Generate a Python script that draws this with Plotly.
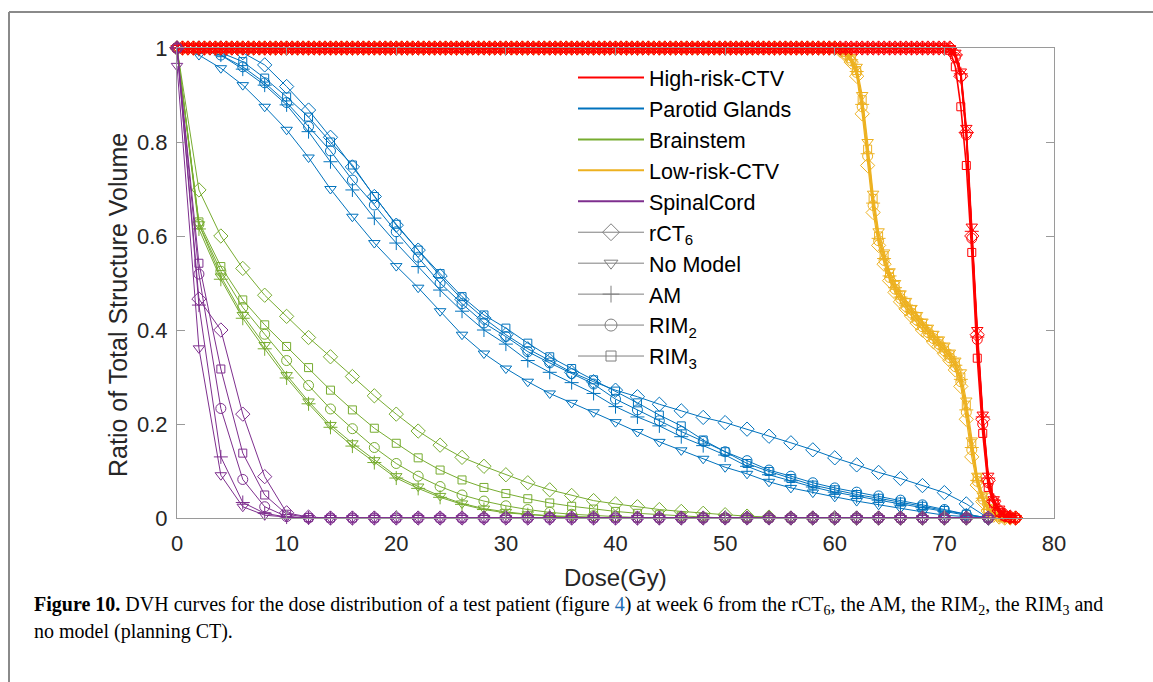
import plotly.graph_objects as go

# ---------------------------------------------------------------------------
# Dose grids (Gy)
# ---------------------------------------------------------------------------
dose_2gy = [0, 2, 4, 6, 8, 10, 12, 14, 16, 18, 20, 22, 24, 26, 28, 30, 32, 34, 36,
            38, 40, 42, 44, 46, 48, 50, 52, 54, 56, 58, 60, 62, 64, 66, 68, 70, 72, 74]
ctv_dose = [round(0.5 * i, 1) for i in range(154)]          # 0 ... 76.5 Gy

methods = ["rCT<sub>6</sub>", "No Model", "AM", "RIM<sub>2</sub>", "RIM<sub>3</sub>"]
structures = ["High-risk-CTV", "Parotid Glands", "Brainstem", "Low-risk-CTV", "SpinalCord"]

# ---------------------------------------------------------------------------
# Parotid glands
# ---------------------------------------------------------------------------
parotid_rct6 = [1.0, 1.0, 1.0, 0.99, 0.964, 0.918, 0.868, 0.81, 0.747, 0.684, 0.623, 0.57,
                0.515, 0.465, 0.425, 0.39, 0.36, 0.335, 0.31, 0.29, 0.272, 0.258, 0.242,
                0.228, 0.214, 0.203, 0.189, 0.174, 0.16, 0.145, 0.128, 0.113, 0.097, 0.084,
                0.069, 0.054, 0.03, 0.0]
parotid_nomodel = [1.0, 0.985, 0.957, 0.921, 0.875, 0.826, 0.767, 0.70, 0.641, 0.585, 0.536,
                   0.49, 0.44, 0.39, 0.35, 0.318, 0.29, 0.265, 0.245, 0.225, 0.204, 0.183,
                   0.162, 0.144, 0.126, 0.108, 0.094, 0.077, 0.064, 0.054, 0.045, 0.036,
                   0.028, 0.021, 0.013, 0.006, 0.003, 0.0]
parotid_am = [1.0, 0.997, 0.985, 0.955, 0.921, 0.879, 0.822, 0.758, 0.698, 0.638, 0.585,
              0.535, 0.485, 0.44, 0.40, 0.37, 0.335, 0.31, 0.288, 0.265, 0.237, 0.215, 0.196,
              0.173, 0.154, 0.134, 0.11, 0.092, 0.079, 0.066, 0.055, 0.046, 0.038, 0.03,
              0.022, 0.014, 0.006, 0.0]
parotid_rim2 = [1.0, 0.998, 0.985, 0.96, 0.926, 0.884, 0.833, 0.781, 0.719, 0.666, 0.609,
                0.555, 0.50, 0.456, 0.415, 0.386, 0.354, 0.33, 0.307, 0.285, 0.253, 0.23,
                0.207, 0.184, 0.163, 0.141, 0.122, 0.102, 0.089, 0.075, 0.064, 0.055, 0.047,
                0.038, 0.028, 0.018, 0.008, 0.0]
parotid_rim3 = [1.0, 0.998, 0.99, 0.971, 0.936, 0.896, 0.853, 0.80, 0.751, 0.684, 0.625,
                0.57, 0.52, 0.471, 0.432, 0.404, 0.372, 0.343, 0.318, 0.294, 0.27, 0.245,
                0.219, 0.196, 0.166, 0.141, 0.116, 0.099, 0.084, 0.07, 0.06, 0.05, 0.042,
                0.034, 0.025, 0.016, 0.008, 0.0]

# ---------------------------------------------------------------------------
# Brainstem
# ---------------------------------------------------------------------------
brainstem_rct6 = [1.0, 0.698, 0.60, 0.531, 0.474, 0.429, 0.384, 0.343, 0.301, 0.26, 0.221,
                  0.185, 0.155, 0.129, 0.11, 0.092, 0.075, 0.06, 0.048, 0.037, 0.03, 0.024,
                  0.018, 0.014, 0.01, 0.007, 0.004, 0.002, 0.0, 0.0, 0.0, 0.0, 0.0, 0.0, 0.0,
                  0.0, 0.0, 0.0]
brainstem_nomodel = [1.0, 0.625, 0.514, 0.432, 0.368, 0.304, 0.248, 0.198, 0.159, 0.123,
                     0.089, 0.067, 0.047, 0.031, 0.02, 0.013, 0.008, 0.005, 0.003, 0.001,
                     0.0, 0.0, 0.0, 0.0, 0.0, 0.0, 0.0, 0.0, 0.0, 0.0, 0.0, 0.0, 0.0, 0.0,
                     0.0, 0.0, 0.0, 0.0]
brainstem_am = [1.0, 0.615, 0.508, 0.425, 0.36, 0.298, 0.243, 0.193, 0.153, 0.118, 0.085,
                0.063, 0.044, 0.029, 0.018, 0.011, 0.007, 0.004, 0.002, 0.001, 0.0, 0.0,
                0.0, 0.0, 0.0, 0.0, 0.0, 0.0, 0.0, 0.0, 0.0, 0.0, 0.0, 0.0, 0.0, 0.0, 0.0,
                0.0]
brainstem_rim2 = [1.0, 0.625, 0.525, 0.448, 0.391, 0.335, 0.282, 0.232, 0.19, 0.15, 0.116,
                  0.089, 0.067, 0.049, 0.036, 0.026, 0.018, 0.012, 0.008, 0.005, 0.003,
                  0.001, 0.0, 0.0, 0.0, 0.0, 0.0, 0.0, 0.0, 0.0, 0.0, 0.0, 0.0, 0.0, 0.0,
                  0.0, 0.0, 0.0]
brainstem_rim3 = [1.0, 0.63, 0.535, 0.464, 0.411, 0.365, 0.32, 0.272, 0.23, 0.191, 0.159,
                  0.128, 0.102, 0.081, 0.065, 0.052, 0.041, 0.032, 0.025, 0.019, 0.014, 0.01,
                  0.007, 0.004, 0.002, 0.0, 0.0, 0.0, 0.0, 0.0, 0.0, 0.0, 0.0, 0.0, 0.0, 0.0,
                  0.0, 0.0]

# ---------------------------------------------------------------------------
# Spinal cord
# ---------------------------------------------------------------------------
cord_rct6 = [1.0, 0.466, 0.40, 0.221, 0.088, 0.011, 0.002, 0.0, 0.0, 0.0, 0.0, 0.0, 0.0,
             0.0, 0.0, 0.0, 0.0, 0.0, 0.0, 0.0, 0.0, 0.0, 0.0, 0.0, 0.0, 0.0, 0.0, 0.0,
             0.0, 0.0, 0.0, 0.0, 0.0, 0.0, 0.0, 0.0, 0.0, 0.0]
cord_nomodel = [0.962, 0.361, 0.091, 0.024, 0.006, 0.002, 0.0, 0.0, 0.0, 0.0, 0.0, 0.0,
                0.0, 0.0, 0.0, 0.0, 0.0, 0.0, 0.0, 0.0, 0.0, 0.0, 0.0, 0.0, 0.0, 0.0, 0.0,
                0.0, 0.0, 0.0, 0.0, 0.0, 0.0, 0.0, 0.0, 0.0, 0.0, 0.0]
cord_am = [1.0, 0.453, 0.13, 0.033, 0.01, 0.002, 0.0, 0.0, 0.0, 0.0, 0.0, 0.0, 0.0, 0.0,
           0.0, 0.0, 0.0, 0.0, 0.0, 0.0, 0.0, 0.0, 0.0, 0.0, 0.0, 0.0, 0.0, 0.0, 0.0, 0.0,
           0.0, 0.0, 0.0, 0.0, 0.0, 0.0, 0.0, 0.0]
cord_rim2 = [1.0, 0.519, 0.233, 0.082, 0.024, 0.003, 0.0, 0.0, 0.0, 0.0, 0.0, 0.0, 0.0,
             0.0, 0.0, 0.0, 0.0, 0.0, 0.0, 0.0, 0.0, 0.0, 0.0, 0.0, 0.0, 0.0, 0.0, 0.0,
             0.0, 0.0, 0.0, 0.0, 0.0, 0.0, 0.0, 0.0, 0.0, 0.0]
cord_rim3 = [1.0, 0.542, 0.317, 0.138, 0.049, 0.008, 0.001, 0.0, 0.0, 0.0, 0.0, 0.0, 0.0,
             0.0, 0.0, 0.0, 0.0, 0.0, 0.0, 0.0, 0.0, 0.0, 0.0, 0.0, 0.0, 0.0, 0.0, 0.0,
             0.0, 0.0, 0.0, 0.0, 0.0, 0.0, 0.0, 0.0, 0.0, 0.0]

# ---------------------------------------------------------------------------
# High-risk CTV: full coverage up to 70 Gy, fall-off sampled 70.5 ... 76.5 Gy
# ---------------------------------------------------------------------------
hr_full = [1.0] * 141
hr_rct6 = hr_full + [1.0, 0.985, 0.94, 0.82, 0.60, 0.39, 0.21, 0.08, 0.035, 0.015, 0.006, 0.002, 0.0]
hr_nomodel = hr_full + [1.0, 0.99, 0.95, 0.83, 0.62, 0.40, 0.22, 0.09, 0.04, 0.02, 0.008, 0.003, 0.0]
hr_am = hr_full + [1.0, 0.985, 0.945, 0.82, 0.61, 0.385, 0.215, 0.085, 0.038, 0.017, 0.007, 0.002, 0.0]
hr_rim2 = hr_full + [1.0, 0.98, 0.94, 0.815, 0.595, 0.38, 0.20, 0.075, 0.033, 0.014, 0.005, 0.001, 0.0]
hr_rim3 = hr_full + [0.995, 0.96, 0.875, 0.75, 0.565, 0.34, 0.18, 0.065, 0.03, 0.012, 0.004, 0.001, 0.0]

# ---------------------------------------------------------------------------
# Low-risk CTV: full coverage up to 59.5 Gy, fall-off sampled 60 ... 76.5 Gy
# ---------------------------------------------------------------------------
lr_full = [1.0] * 120
lr_rct6 = lr_full + [1.0, 0.995, 0.985, 0.97, 0.94, 0.86, 0.75, 0.65, 0.58, 0.54, 0.505, 0.48,
                     0.46, 0.445, 0.43, 0.415, 0.40, 0.39, 0.375, 0.365, 0.35, 0.335, 0.315,
                     0.28, 0.21, 0.13, 0.07, 0.035, 0.015, 0.006, 0.002, 0.0, 0.0, 0.0]
lr_nomodel = lr_full + [1.0, 1.0, 0.99, 0.98, 0.96, 0.9, 0.8, 0.69, 0.61, 0.565, 0.525, 0.5,
                        0.478, 0.462, 0.447, 0.432, 0.418, 0.405, 0.392, 0.38, 0.367, 0.352,
                        0.335, 0.31, 0.25, 0.165, 0.09, 0.048, 0.022, 0.01, 0.004, 0.001,
                        0.0, 0.0]
lr_am = lr_full + [1.0, 0.998, 0.988, 0.975, 0.95, 0.88, 0.775, 0.67, 0.595, 0.552, 0.515,
                   0.49, 0.47, 0.453, 0.438, 0.423, 0.41, 0.397, 0.384, 0.372, 0.358, 0.343,
                   0.325, 0.295, 0.23, 0.15, 0.08, 0.042, 0.018, 0.008, 0.003, 0.001, 0.0, 0.0]
lr_rim2 = lr_full + [1.0, 0.997, 0.987, 0.973, 0.948, 0.875, 0.77, 0.665, 0.59, 0.548, 0.512,
                     0.487, 0.467, 0.45, 0.436, 0.421, 0.407, 0.395, 0.382, 0.37, 0.356,
                     0.341, 0.322, 0.29, 0.225, 0.145, 0.078, 0.04, 0.017, 0.007, 0.003,
                     0.001, 0.0, 0.0]
lr_rim3 = lr_full + [1.0, 0.998, 0.99, 0.977, 0.952, 0.89, 0.785, 0.68, 0.6, 0.558, 0.52,
                     0.495, 0.474, 0.458, 0.443, 0.428, 0.414, 0.401, 0.388, 0.376, 0.362,
                     0.347, 0.33, 0.3, 0.24, 0.158, 0.085, 0.045, 0.02, 0.009, 0.004, 0.001,
                     0.0, 0.0]

# ---------------------------------------------------------------------------
# Styling
# ---------------------------------------------------------------------------
COLORS = {
    "High-risk-CTV": "#FF0000",
    "Parotid Glands": "#0072BD",
    "Brainstem": "#77AC30",
    "Low-risk-CTV": "#EDB120",
    "SpinalCord": "#7E2F8E",
}
SYMBOLS = ["diamond-open", "triangle-down-open", "cross-thin-open", "circle-open", "square-open"]
SIZES = [11, 10, 10, 10, 8]
LEGEND_GREY = "#7f7f7f"
AXIS_GREY = "#9a9a9a"
TEXT = "#262626"
FONT = "Liberation Sans, Arial, sans-serif"
SERIF = "Liberation Serif, Times New Roman, serif"

# drawing order: the CTV curves at full coverage sit on top of the organ curves
series = {
    "High-risk-CTV": (ctv_dose, [hr_rct6, hr_nomodel, hr_am, hr_rim2, hr_rim3], 1.6),
    "Parotid Glands": (dose_2gy, [parotid_rct6, parotid_nomodel, parotid_am, parotid_rim2, parotid_rim3], 1.0),
    "Brainstem": (dose_2gy, [brainstem_rct6, brainstem_nomodel, brainstem_am, brainstem_rim2, brainstem_rim3], 1.0),
    "Low-risk-CTV": (ctv_dose, [lr_rct6, lr_nomodel, lr_am, lr_rim2, lr_rim3], 1.2),
    "SpinalCord": (dose_2gy, [cord_rct6, cord_nomodel, cord_am, cord_rim2, cord_rim3], 1.0),
}
draw_order = ["Parotid Glands", "Brainstem", "Low-risk-CTV", "High-risk-CTV", "SpinalCord"]

fig = go.Figure()

for name in draw_order:
    x, curves, lw = series[name]
    color = COLORS[name]
    for k, y in enumerate(curves):
        fig.add_trace(go.Scatter(
            x=x, y=y, mode="lines+markers",
            line=dict(color=color, width=lw),
            marker=dict(symbol=SYMBOLS[k], size=SIZES[k], color=color,
                        line=dict(color=color, width=1)),
            cliponaxis=False, showlegend=False, hoverinfo="skip",
        ))

# legend entries: one line per structure, one marker style per method
for name in structures:
    fig.add_trace(go.Scatter(
        x=[None], y=[None], mode="lines", name=name,
        line=dict(color=COLORS[name], width=2),
    ))
for k, m in enumerate(methods):
    fig.add_trace(go.Scatter(
        x=[None], y=[None], mode="lines+markers", name=m,
        line=dict(color=LEGEND_GREY, width=1),
        marker=dict(symbol=SYMBOLS[k], size=SIZES[k] + 2, color=LEGEND_GREY,
                    line=dict(color=LEGEND_GREY, width=1)),
    ))

axis_common = dict(
    showline=True, linecolor=AXIS_GREY, linewidth=1, mirror="ticks",
    ticks="inside", ticklen=8, tickcolor=AXIS_GREY, tickwidth=1,
    showgrid=False, zeroline=False,
    tickfont=dict(family=FONT, size=22, color=TEXT),
)

fig.update_xaxes(range=[0, 80], tickvals=[0, 10, 20, 30, 40, 50, 60, 70, 80],
                 ticklabelstandoff=6, **axis_common)
fig.update_yaxes(range=[0, 1], tickvals=[0, 0.2, 0.4, 0.6, 0.8, 1],
                 ticklabelstandoff=4, **axis_common)

PX_W = 877.0   # plot area width in px
PX_H = 470.0   # plot area height in px
L, T = 177, 48


def px(xp):
    return (xp - L) / PX_W


def py(yp):
    return (T + PX_H - yp) / PX_H


fig.update_layout(
    width=1153, height=682,
    margin=dict(l=L, r=1153 - L - int(PX_W), t=T, b=682 - T - int(PX_H), autoexpand=False),
    paper_bgcolor="white", plot_bgcolor="white",
    showlegend=True,
    legend=dict(
        x=px(573), y=py(57), xanchor="left", yanchor="top",
        bgcolor="rgba(255,255,255,0)", borderwidth=0,
        font=dict(family=FONT, size=21.5, color="black"),
        itemwidth=66, tracegroupgap=0,
    ),
    annotations=[
        dict(text="Dose(Gy)", xref="paper", yref="paper", x=px(615), y=py(577),
             xanchor="center", yanchor="middle", showarrow=False,
             font=dict(family=FONT, size=24, color=TEXT)),
        dict(text="Ratio of Total Structure Volume", xref="paper", yref="paper",
             x=px(118), y=py(305), xanchor="center", yanchor="middle", textangle=-90,
             showarrow=False, font=dict(family=FONT, size=25, color=TEXT)),
        dict(text="<b>Figure 10.</b> DVH curves for the dose distribution of a test patient "
                  "(figure <span style='color:#1f6fb5'>4</span>) at week 6 from the rCT<sub>6</sub>, "
                  "the AM, the RIM<sub>2</sub>, the RIM<sub>3</sub> and",
             xref="paper", yref="paper", x=px(32), y=py(605), xanchor="left",
             yanchor="middle", showarrow=False,
             font=dict(family=SERIF, size=20, color="black")),
        dict(text="no model (planning CT).",
             xref="paper", yref="paper", x=px(32), y=py(631), xanchor="left",
             yanchor="middle", showarrow=False,
             font=dict(family=SERIF, size=20, color="black")),
    ],
    shapes=[
        dict(type="line", xref="paper", yref="paper", x0=px(9), x1=px(1153), y0=py(12), y1=py(12),
             line=dict(color="#8a8a8a", width=2)),
        dict(type="line", xref="paper", yref="paper", x0=px(9), x1=px(9), y0=py(12), y1=py(682),
             line=dict(color="#8a8a8a", width=2)),
    ],
)

fig.write_html("out.html")
